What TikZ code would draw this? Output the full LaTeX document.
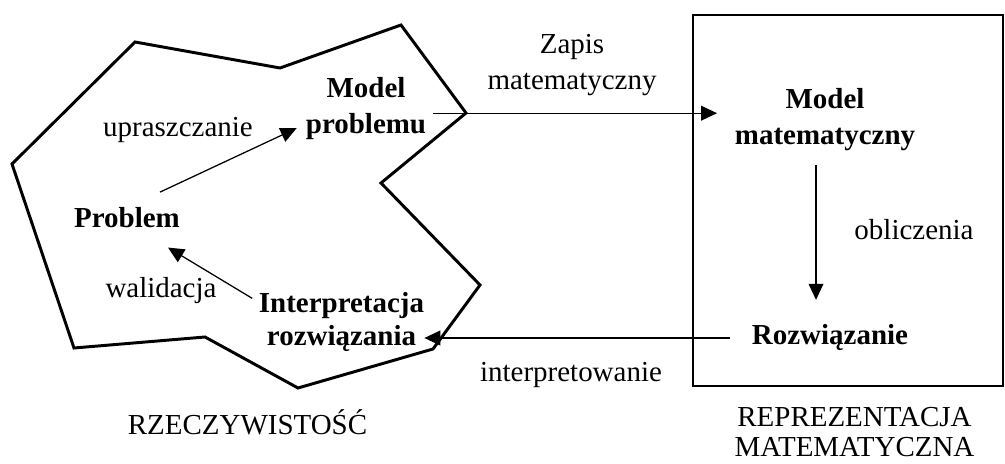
\documentclass[tikz,border=0pt]{standalone}
\usepackage{fontspec}
\setmainfont{Liberation Serif}
\usetikzlibrary{arrows.meta}
\begin{document}
\begin{tikzpicture}[x=0.025cm,y=-0.025cm,
        txt/.style={inner sep=0pt,align=center,font=\fontsize{20.6}{#1}\selectfont},
        txt/.default=25.6,
        bold/.style={txt=#1,font=\fontsize{20.6}{#1}\selectfont\bfseries},
        bold/.default=25.6,
        arr/.style={line width=0.9pt,-{Triangle[length=0.4cm,width=0.37cm]}}]
        \useasboundingbox (0,0) rectangle (1005,464);
        \draw [line width=2.1pt] (135,42) -- (280,68) -- (401,25) -- (466,113) -- (381,183) -- (480,285) -- (433,349) -- (298,388) -- (205,337) -- (74,348) -- (12,164) -- cycle;
        \draw [line width=2.1pt] (693,15) rectangle (1003,386);
        \node [bold] (model) at (366,108.2) {Model\\problemu};
        \node [bold,anchor=base] (problem) at (127,227.5) {Problem};
        \node [bold=23.5] (interp) at (341.5,321.6) {Interpretacja\\rozwiązania};
        \node [bold] (mmat) at (825,119.4) {Model\\matematyczny};
        \node [bold,anchor=base] (rozw) at (830,345) {Rozwiązanie};
        \node [txt,anchor=base] (upr) at (178,136.5) {upraszczanie};
        \node [txt,anchor=base] (wal) at (161,297.7) {walidacja};
        \node [txt] (zapis) at (572,65.2) {Zapis\\matematyczny};
        \node [txt,anchor=base] (obl) at (914,240) {obliczenia};
        \node [txt,anchor=base] (intw) at (571,382) {interpretowanie};
        \node [txt,anchor=base] (rzecz) at (247.5,434) {RZECZYWISTOŚĆ};
        \node [txt=21.3] (repr) at (854.5,432.4) {REPREZENTACJA\\MATEMATYCZNA};
        \coordinate (zs) at ([shift={(7,5)}]model.east);
        \draw [arr,shorten >=0.44cm] (zs) -- (zs -| mmat.west);
        \coordinate (os) at ([shift={(-9,14)}]mmat.south);
        \draw [arr,shorten >=0.62cm] (os) -- (os |- rozw.north);
        \draw [arr,shorten <=0.55cm] (rozw.west) -- (rozw.west -| interp.east);
        \draw [arr] ([shift={(33,-15)}]problem.north) -- ([shift={(-9,20)}]model.west);
        \draw [arr] ([shift={(-6.5,6.6)}]interp.north west) -- ([shift={(41,19.5)}]problem.south);
\end{tikzpicture}
\end{document}
